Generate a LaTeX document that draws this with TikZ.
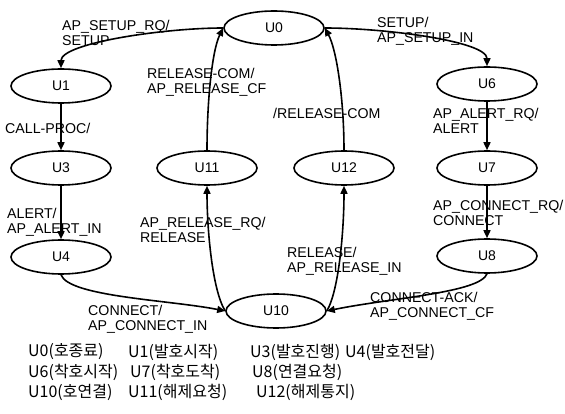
\documentclass[tikz,border=0pt]{standalone}
\usepackage{fontspec}
\setmainfont{Liberation Sans}
\newfontfamily\krfont{Noto Sans CJK KR}
\usetikzlibrary{shapes.geometric,arrows.meta}

\tikzset{
  state/.style={draw, ellipse, line width=1.6pt, minimum width=100pt,
    minimum height=34pt, inner sep=0pt, font=\fontsize{14}{16}\selectfont},
  trans/.style={line width=1.6pt, -{Triangle[length=8pt,width=7pt]}},
  lbl/.style={anchor=north west, align=left, inner sep=0pt,
    font=\fontsize{14.2}{15}\selectfont},
  legend/.style={anchor=west, inner sep=0pt,
    font=\krfont\fontsize{16}{18}\selectfont}
}

\begin{document}
\begin{tikzpicture}[x=1pt,y=-1pt]
\useasboundingbox (0,0) rectangle (565,414);

% states
\node[state] (U0)  at (274,28)  {U0};
\node[state] (U1)  at (61,86)   {U1};
\node[state] (U3)  at (61,168)  {U3};
\node[state] (U4)  at (61,257)  {U4};
\node[state] (U11) at (207,168) {U11};
\node[state] (U12) at (344,168) {U12};
\node[state] (U10) at (276,311) {U10};
\node[state] (U6)  at (487,84)  {U6};
\node[state] (U7)  at (487,168) {U7};
\node[state] (U8)  at (487,256) {U8};

% transitions
\draw[trans] (U0.west) .. controls +(-60,0) and +(0,-25) .. (U1.north);
\draw[trans] (U0.east) .. controls +(60,0) and +(0,-25) .. (U6.north);
\draw[trans] (U1) -- (U3);
\draw[trans] (U3) -- (U4);
\draw[trans] (U4.south) .. controls +(8,22) and +(-55,-11) .. (U10.west);
\draw[trans] (U10.west) .. controls +(-13,-21) and +(0,43) .. (U11.south);
\draw[trans] (U11.north) .. controls +(0,-50) and +(-11,22) .. (U0.west);
\draw[trans] (U12.north) .. controls +(0,-50) and +(12,22) .. (U0.east);
\draw[trans] (U10.east) .. controls +(12,-20) and +(0,45) .. (U12.south);
\draw[trans] (U8.south) .. controls +(-7,19) and +(63,-13) .. (U10.east);
\draw[trans] (U6) -- (U7);
\draw[trans] (U7) -- (U8);

% transition labels
\node[lbl] (l1)  at (62,20)   {AP\_SETUP\_RQ/\\SETUP};
\node[lbl] (l2)  at (377,17)  {SETUP/\\AP\_SETUP\_IN};
\node[lbl] (l3)  at (147,68)  {RELEASE-COM/\\AP\_RELEASE\_CF};
\node[lbl] (l4)  at (273,108) {/RELEASE-COM};
\node[lbl] (l5)  at (5,123)   {CALL-PROC/};
\node[lbl] (l6)  at (433,108) {AP\_ALERT\_RQ/\\ALERT};
\node[lbl] (l7)  at (7,208)   {ALERT/\\AP\_ALERT\_IN};
\node[lbl] (l8)  at (140,217) {AP\_RELEASE\_RQ/\\RELEASE};
\node[lbl] (l9)  at (433,200) {AP\_CONNECT\_RQ/\\CONNECT};
\node[lbl] (l10) at (287,247) {RELEASE/\\AP\_RELEASE\_IN};
\node[lbl] (l11) at (88,305)  {CONNECT/\\AP\_CONNECT\_IN};
\node[lbl] (l12) at (370,292) {CONNECT-ACK/\\AP\_CONNECT\_CF};

% legend
\node[legend] (g0)  at (28,352)  {U0(호종료)};
\node[legend] (g1)  at (128,352) {U1(발호시작)};
\node[legend] (g3)  at (250,352) {U3(발호진행)};
\node[legend] (g4)  at (345,352) {U4(발호전달)};
\node[legend] (g6)  at (28,372)  {U6(착호시작)};
\node[legend] (g7)  at (130,372) {U7(착호도착)};
\node[legend] (g8)  at (252,372) {U8(연결요청)};
\node[legend] (g10) at (28,392)  {U10(호연결)};
\node[legend] (g11) at (128,392) {U11(해제요청)};
\node[legend] (g12) at (256,392) {U12(해제통지)};
\end{tikzpicture}
\end{document}
